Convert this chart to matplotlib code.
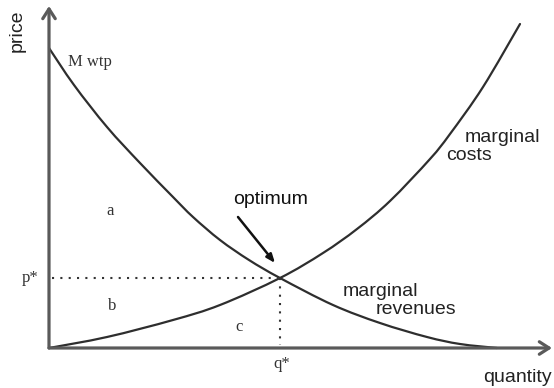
import matplotlib
matplotlib.use("Agg")
import matplotlib.pyplot as plt
from matplotlib.path import Path
from matplotlib.patches import PathPatch

# Marginal willingness to pay / marginal revenues curve
mwtp_q = [0, 25, 58, 91, 124, 144, 171, 200, 231, 284, 331, 378, 411, 448]
mwtp_p = [300, 263, 221, 185, 151, 131, 108, 88, 70, 43, 25, 11, 4, 0]

# Marginal costs curve
mc_q = [0, 58, 124, 171, 231, 274, 308, 341, 381, 401, 434, 471]
mc_p = [0, 11, 28, 43, 70, 95, 119, 147, 189, 214, 261, 324]

# Optimum
q_star = 231
p_star = 70

W, H = 554, 388
fig = plt.figure(figsize=(W / 100, H / 100), dpi=100)
ax = fig.add_axes([49 / W, 40 / H, 505 / W, 348 / H])
ax.set_xlim(0, 505)
ax.set_ylim(0, 348)
ax.axis("off")

sans = ["Liberation Sans", "DejaVu Sans"]
serif = ["Liberation Serif", "DejaVu Serif"]
axis_col = "#5a5a5a"
curve_col = "#2e2e2e"
text_col = "#222222"


def smooth_curve(ax, xs, ys, **kw):
    """Draw a smooth Bezier curve through the given data points."""
    pts = list(zip(xs, ys))
    verts = [pts[0]]
    codes = [Path.MOVETO]
    n = len(pts)
    for i in range(n - 1):
        p0 = pts[i - 1] if i > 0 else pts[i]
        p1 = pts[i]
        p2 = pts[i + 1]
        p3 = pts[i + 2] if i + 2 < n else pts[i + 1]
        c1 = (p1[0] + (p2[0] - p0[0]) / 6, p1[1] + (p2[1] - p0[1]) / 6)
        c2 = (p2[0] - (p3[0] - p1[0]) / 6, p2[1] - (p3[1] - p1[1]) / 6)
        verts += [c1, c2, p2]
        codes += [Path.CURVE4] * 3
    patch = PathPatch(Path(verts, codes), fill=False, **kw)
    ax.add_patch(patch)
    return patch


# axes arrows
ax.annotate("", xy=(503, 0), xytext=(0, 0),
            arrowprops=dict(arrowstyle="->,head_length=0.7,head_width=0.45",
                            lw=2.3, color=axis_col, shrinkA=0, shrinkB=0),
            annotation_clip=False)
ax.annotate("", xy=(0, 342), xytext=(0, 0),
            arrowprops=dict(arrowstyle="->,head_length=0.7,head_width=0.45",
                            lw=2.3, color=axis_col, shrinkA=0, shrinkB=0),
            annotation_clip=False)

# curves
smooth_curve(ax, mwtp_q, mwtp_p, edgecolor=curve_col, lw=1.6,
             capstyle="round", clip_on=False)
smooth_curve(ax, mc_q, mc_p, edgecolor=curve_col, lw=1.6,
             capstyle="round", clip_on=False)

# dotted guides
ax.plot([3, q_star], [p_star, p_star], color="#333333", lw=1.5,
        linestyle=(0, (1, 3)))
ax.plot([q_star, q_star], [p_star, 3], color="#333333", lw=1.5,
        linestyle=(0, (1, 3)))

# labels
ax.text(-32, 317, "price", rotation=90, ha="center", va="center",
        fontsize=14, family=sans, color=text_col, clip_on=False)
ax.text(468, -29, "quantity", ha="center", va="center",
        fontsize=14, family=sans, color=text_col, clip_on=False)
ax.text(19, 286, "M wtp", ha="left", va="center",
        fontsize=12, family=serif, color="#333333")
ax.text(61, 137, "a", ha="center", va="center", fontsize=12, family=serif, color="#333333")
ax.text(63, 42, "b", ha="center", va="center", fontsize=12, family=serif, color="#333333")
ax.text(190, 21, "c", ha="center", va="center", fontsize=12, family=serif, color="#333333")
ax.text(-19, 70, "p*", ha="center", va="center", fontsize=12, family=serif,
        color="#333333", clip_on=False)
ax.text(233, -16, "q*", ha="center", va="center", fontsize=12, family=serif,
        color="#333333", clip_on=False)

ax.text(222, 148, "optimum", ha="center", va="center", fontsize=14,
        family=sans, color="#111111")
ax.annotate("", xy=(226, 85), xytext=(189, 131),
            arrowprops=dict(arrowstyle="-|>,head_length=0.5,head_width=0.2",
                            lw=1.8, color="#111111", shrinkA=0, shrinkB=0))

ax.text(453, 210, "marginal", ha="center", va="center", fontsize=14,
        family=sans, color=text_col)
ax.text(420, 193, "costs", ha="center", va="center", fontsize=14,
        family=sans, color=text_col)
ax.text(331, 57, "marginal", ha="center", va="center", fontsize=14,
        family=sans, color=text_col)
ax.text(367, 38, "revenues", ha="center", va="center", fontsize=14,
        family=sans, color=text_col)

fig.savefig("out.png", dpi=100)
